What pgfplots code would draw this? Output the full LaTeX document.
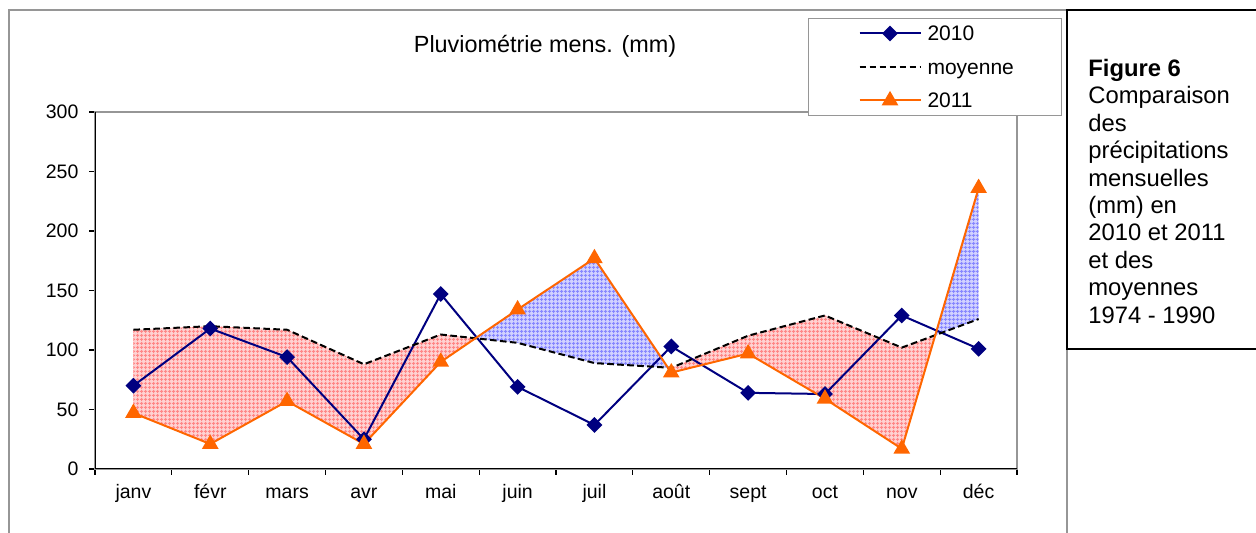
\documentclass[border=0pt]{standalone}
\usepackage{pgfplots}
\pgfplotsset{compat=1.18}
\usepackage{pgfplotstable}
\usepgfplotslibrary{fillbetween}
\usetikzlibrary{patterns.meta}
\usepackage{fontspec}
\setmainfont{Liberation Sans}

\definecolor{c2010}{RGB}{0,0,128}
\definecolor{c2011}{RGB}{255,102,0}
\definecolor{redfill}{RGB}{255,210,210}
\definecolor{redline}{RGB}{255,135,135}
\definecolor{bluefill}{RGB}{210,210,255}
\definecolor{blueline}{RGB}{135,135,255}
\definecolor{framegray}{RGB}{150,150,150}

\tikzdeclarepattern{name=finegrid, type=uncolored,
  bounding box={(0bp,0bp) and (2bp,2bp)}, tile size={(2bp,2bp)},
  code={\draw[line width=0.5bp] (0bp,1bp)--(2bp,1bp) (1bp,0bp)--(1bp,2bp);}}

\pgfplotstableread{
x v2010 moy v2011
0 70 117 47
1 118 120 21
2 94 117 57
3 25 88 21
4 147 113 90
5 69 106 134
6 37 89 177
7 103 85 81
8 64 112 97
9 63 129 59
10 129 102 17
11 101 126 236
}\data

\begin{document}
\begin{tikzpicture}[x=0.5bp,y=0.5bp]
\draw[framegray, line width=0.6bp] (9,-10) -- (9,523) -- (1067,523) -- (1067,-10);
\draw[black, line width=1bp] (1300,523) -- (1067,523) -- (1067,184) -- (1300,184);
\node[anchor=base west, inner sep=0pt] at (1088,456.5) {\parbox[t]{90bp}{\fontsize{11.9bp}{13.7bp}\selectfont\raggedright
\textbf{Figure 6}\\Comparaison\\des\\précipitations\\mensuelles\\(mm) en\\2010 et 2011\\et des\\moyennes\\1974 - 1990}};
\node[anchor=base, inner sep=0pt] at (545,480) {\fontsize{11.7bp}{14bp}\selectfont Pluviométrie mens. (mm)};
\begin{axis}[
  at={(47.5bp,32bp)}, anchor=south west,
  scale only axis, width=461bp, height=178.5bp,
  set layers,
  xmin=-0.5, xmax=11.5, ymin=0, ymax=300,
  xtick={-0.5,0.5,...,11.5},
  x tick label as interval,
  xticklabels={janv,févr,mars,avr,mai,juin,juil,août,sept,oct,nov,déc},
  ytick={0,50,...,300},
  xtick pos=bottom, ytick pos=left,
  tick align=outside, major tick length=2.8bp,
  tick style={black, line width=0.6bp},
  axis line style={framegray, line width=0.6bp},
  /pgf/number format/assume math mode=true,
  ticklabel style={font=\fontsize{9.75bp}{11bp}\selectfont},
  xticklabel style={text height=7.2bp, text depth=2.2bp, yshift=-1bp},
  yticklabel style={xshift=-2bp},
  legend style={at={(0.7733,1.2633)}, anchor=north west, draw=framegray, line width=0.5bp, fill=white,
    font=\fontsize{10.5bp}{12bp}\selectfont, inner xsep=21bp, inner ysep=2.25bp, row sep=6.25bp,
    nodes={inner ysep=0pt, inner xsep=3bp, text height=9bp, text depth=1.5bp}},
  legend cell align=left,
  legend image code/.code={\path (0bp,0bp); \draw[mark repeat=2,mark phase=2] plot coordinates {(4bp,0bp)(19.25bp,0bp)(34.5bp,0bp)};},
]
\addplot[c2010, line width=1bp, mark=square*, mark size=2.3bp, mark options={rotate=45, solid}] table[x=x,y=v2010]{\data};
\addlegendentry{2010}
\addplot[black, line width=1bp, dash pattern=on 3.3bp off 1.7bp, name path=pmoy] table[x=x,y=moy]{\data};
\addlegendentry{moyenne}
\addplot[c2011, line width=1bp, mark=triangle*, mark size=3.8bp, mark options={solid}, name path=p2011] table[x=x,y=v2011]{\data};
\addlegendentry{2011}
\addplot[draw=none, forget plot] fill between[of=p2011 and pmoy, split,
  every segment no 0/.style={fill=redfill},
  every segment no 1/.style={fill=bluefill},
  every segment no 2/.style={fill=redfill},
  every segment no 3/.style={fill=bluefill}];
\addplot[draw=none, forget plot] fill between[of=p2011 and pmoy, split,
  every segment no 0/.style={pattern=finegrid, pattern color=redline},
  every segment no 1/.style={pattern=finegrid, pattern color=blueline},
  every segment no 2/.style={pattern=finegrid, pattern color=redline},
  every segment no 3/.style={pattern=finegrid, pattern color=blueline}];
\draw[black, line width=0.8bp] (rel axis cs:0,1) -- (rel axis cs:0,0) -- (rel axis cs:1,0);
\end{axis}
\pgfresetboundingbox
\path[use as bounding box] (0,0) rectangle (1256,533);
\end{tikzpicture}
\end{document}
